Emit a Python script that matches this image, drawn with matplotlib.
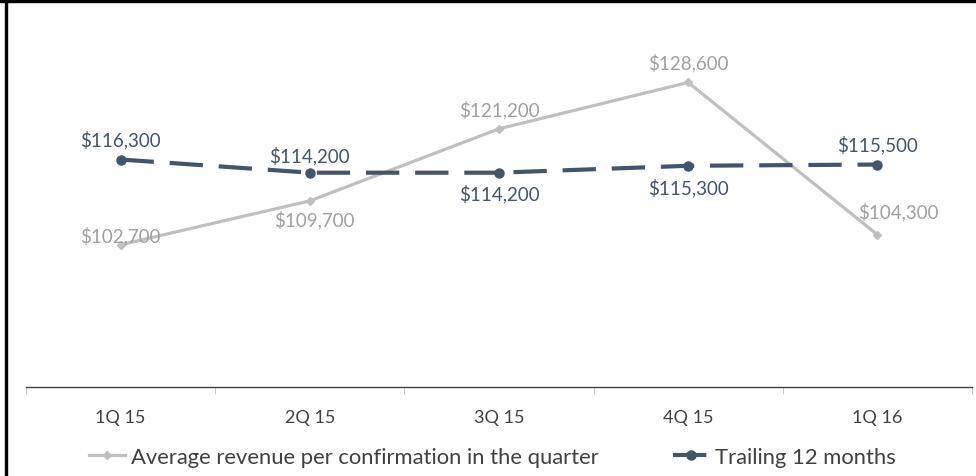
import matplotlib.pyplot as plt
from matplotlib.patches import Rectangle

quarters = ['1Q 15', '2Q 15', '3Q 15', '4Q 15', '1Q 16']
avg_revenue = [102700, 109700, 121200, 128600, 104300]
trailing_12m = [116300, 114200, 114200, 115300, 115500]

gray_line = '#BFBFBF'
gray_text = '#A0A0A0'
dark = '#44546A'
text_col = '#404040'

plt.rcParams['font.family'] = ['Lato', 'DejaVu Sans']

fig = plt.figure(figsize=(9.76, 4.77), dpi=100)
ax = fig.add_axes([26 / 976, 1 - 388 / 477, 946 / 976, 376 / 477])

x = list(range(len(quarters)))
ax.plot(x, avg_revenue, color=gray_line, lw=2.3, marker='D', ms=4,
        label='Average revenue per confirmation in the quarter')
ax.plot(x, trailing_12m, color=dark, lw=3, ls=(0, (8, 3.8)), marker='o', ms=6.5,
        label='Trailing 12 months')

# label offsets in points (dx, dy)
gray_off = [(0, 7), (3, -13), (0, 14.5), (0, 14.5), (15, 17)]
dark_off = [(0, 14.5), (0, 13), (0, -15), (0, -15), (0, 14.5)]
for i in x:
    ax.annotate(f'${avg_revenue[i]:,}', (i, avg_revenue[i]), xytext=gray_off[i],
                textcoords='offset points', ha='center', va='center',
                color=gray_text, fontsize=13.5)
    ax.annotate(f'${trailing_12m[i]:,}', (i, trailing_12m[i]), xytext=dark_off[i],
                textcoords='offset points', ha='center', va='center',
                color=dark, fontsize=13.5)

ax.set_xlim(-0.5, 4.5)
ax.set_ylim(80000, 140000)
ax.set_yticks([])
ax.set_xticks(x)
ax.set_xticklabels(quarters, fontsize=13, color=text_col)
ax.set_xticks([i - 0.5 for i in range(len(quarters) + 1)], minor=True)
ax.tick_params(axis='x', which='major', length=0, pad=16)
ax.tick_params(axis='x', which='minor', length=5, color='#BFBFBF')
for s in ['top', 'right', 'left']:
    ax.spines[s].set_visible(False)
ax.spines['bottom'].set_color(text_col)
ax.spines['bottom'].set_linewidth(1)

ax.legend(loc='center', bbox_to_anchor=(0.493, -0.186), ncol=2, frameon=False,
          fontsize=15.8, handlelength=1.65, handletextpad=0.25, columnspacing=3.4,
          labelcolor=text_col, borderpad=0)

# frame edges of the source image
fig.patches.append(Rectangle((0, 1 - 3 / 477), 1, 3 / 477, transform=fig.transFigure,
                             color='black', zorder=10))
fig.patches.append(Rectangle((5 / 976, 0), 2 / 976, 1, transform=fig.transFigure,
                             color='black', zorder=10))

fig.savefig('out.png', dpi=100)
